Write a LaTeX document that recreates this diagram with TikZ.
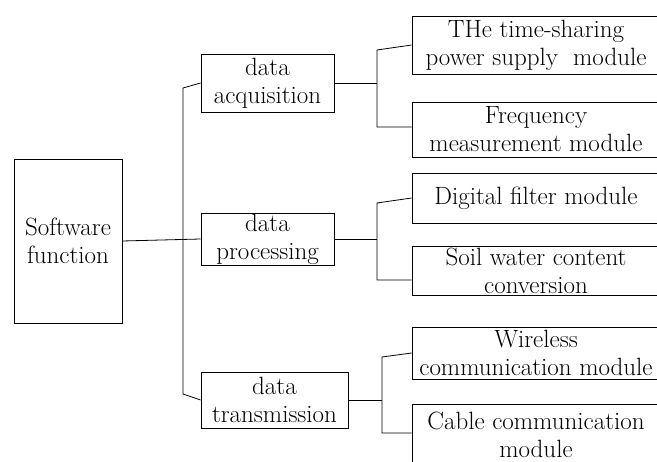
\documentclass[tikz,border=0pt]{standalone}

\begin{document}
\begin{tikzpicture}[x=1pt, y=-1pt, line width=0.8pt,
  box/.style={draw, align=center, inner sep=0pt, font=\fontsize{25}{28}\selectfont},
  modbox/.style={box, minimum width=248pt}]
  \useasboundingbox (0,0) rectangle (657,462);
  \clip (0,0) rectangle (657,462);

  % left side
  \node[box, minimum width=108pt, minimum height=164pt] (sw) at (68,241) {Software\\function};
  \node[box, minimum width=133pt, minimum height=58pt] (acq) at (267.5,83) {data\\acquisition};
  \node[box, minimum width=133pt, minimum height=52pt] (proc) at (267.5,239) {data\\processing};
  \node[box, minimum width=147pt, minimum height=56pt] (trans) at (274.5,400) {data\\transmission};

  % modules
  \node[modbox, minimum height=58pt] (pwr) at (536,45) {THe time-sharing\\power supply\ \ module};
  \node[modbox, minimum height=55pt] (freq) at (536,129.5) {Frequency\\measurement module};
  \node[modbox, minimum height=50pt] (filt) at (536,198) {Digital filter module};
  \node[modbox, minimum height=49pt] (soil) at (536,270.5) {Soil water content\\conversion};
  \node[modbox, minimum height=52pt] (wless) at (536,353) {Wireless\\communication module};
  \node[modbox, minimum height=62pt] (cable) at (536,435) {Cable communication\\module};

  \coordinate (t1) at (183,88);
  \coordinate (t2) at (183,394);
  \coordinate (a1) at (377,50);
  \coordinate (a2) at (377,127);
  \coordinate (p1) at (377,203);
  \coordinate (p2) at (377,280);
  \coordinate (r1) at (382,357);
  \coordinate (r2) at (382,433);

  \draw (sw.east) -- (proc.west);
  \draw (acq.west) -- (t1) -- (t2) -- (trans.west);

  \draw (acq.east) -- (acq.east -| a1);
  \draw (pwr.west) -- (a1) -- (a2) -- (a2 -| freq.west);
  \draw (proc.east) -- (proc.east -| p1);
  \draw (filt.west) -- (p1) -- (p2) -- (p2 -| soil.west);
  \draw (trans.east) -- (trans.east -| r1);
  \draw (wless.west) -- (r1) -- (r2) -- (r2 -| cable.west);
\end{tikzpicture}
\end{document}
